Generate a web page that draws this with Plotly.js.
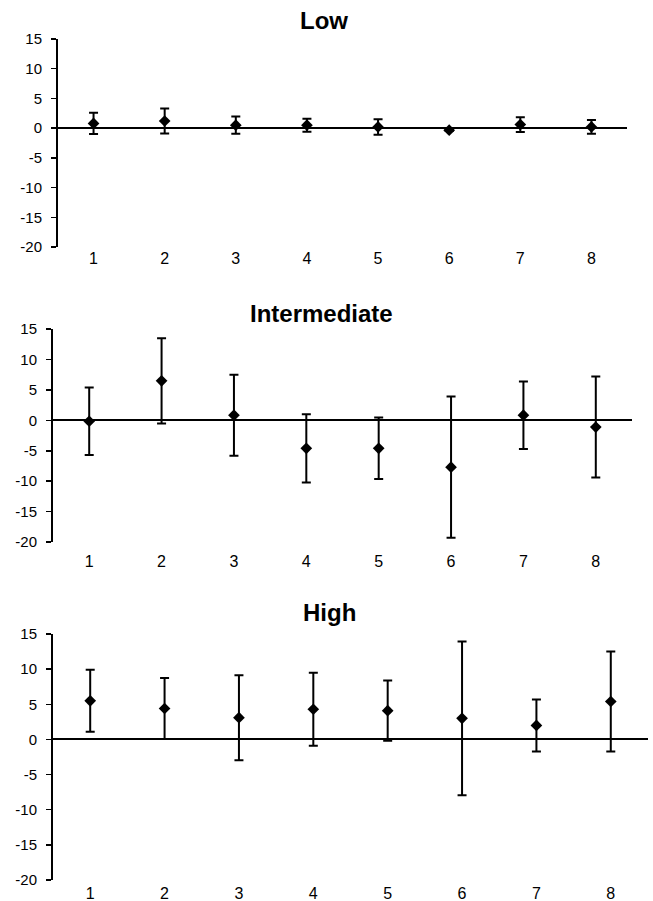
<!DOCTYPE html>
<html>
<head>
<meta charset="utf-8">
<script src="https://cdn.plot.ly/plotly-3.0.1.min.js"></script>
<style>html,body{margin:0;padding:0;background:#fff;}</style>
</head>
<body>
<div id="chart" style="width:653px;height:901px;"></div>
<script>
// Categories
const categories = [1, 2, 3, 4, 5, 6, 7, 8];
const categoryLabels = ["1", "2", "3", "4", "5", "6", "7", "8"];

// Panel titles
const panelTitles = ["Low", "Intermediate", "High"];

// Series values (mean) and error (+/-)
const lowMean  = [0.8, 1.2, 0.5, 0.5, 0.2, -0.35, 0.6, 0.2];
const lowErr   = [1.8, 2.1, 1.45, 1.1, 1.3, 0.15, 1.25, 1.15];

const intMean  = [-0.15, 6.5, 0.85, -4.6, -4.6, -7.7, 0.85, -1.1];
const intErr   = [5.55, 7.0, 6.65, 5.6, 5.05, 11.6, 5.55, 8.3];

const highMean = [5.5, 4.4, 3.1, 4.3, 4.1, 3.0, 2.0, 5.4];
const highErr  = [4.4, 4.35, 6.05, 5.2, 4.3, 10.95, 3.7, 7.1];

// Y tick labels
const yTickVals = [-20, -15, -10, -5, 0, 5, 10, 15];
const yTickText = ["-20", "-15", "-10", "-5", "0", "5", "10", "15"];

const FONT = "Liberation Sans, Arial, Helvetica, sans-serif";

function trace(mean, err, ax) {
  return {
    x: categories, y: mean, type: "scatter", mode: "markers",
    xaxis: "x" + ax, yaxis: "y" + ax,
    marker: {symbol: "diamond", size: 9, color: "#000"},
    error_y: {type: "data", array: err, visible: true, color: "#000", thickness: 2, width: 4.5},
    showlegend: false, hoverinfo: "skip"
  };
}

const data = [
  trace(lowMean, lowErr, ""),
  trace(intMean, intErr, "2"),
  trace(highMean, highErr, "3")
];

function xax(domain, anchor, standoff) {
  return {
    domain: domain, anchor: anchor, range: [0.5, 8.5],
    tickvals: categories, ticktext: categoryLabels,
    showline: false, showgrid: false, zeroline: false, ticks: "",
    ticklabelstandoff: standoff,
    tickfont: {family: FONT, size: 16, color: "#000"}, fixedrange: true
  };
}
function yax(domain, anchor) {
  return {
    domain: domain, anchor: anchor, range: [-20, 15],
    tickvals: yTickVals, ticktext: yTickText,
    showline: true, linecolor: "#000", linewidth: 2,
    ticks: "outside", ticklen: 5, tickwidth: 1.5, tickcolor: "#000",
    showgrid: false, zeroline: true, zerolinecolor: "#000", zerolinewidth: 2,
    ticklabelstandoff: 6,
    tickfont: {family: FONT, size: 15, color: "#000"}, fixedrange: true
  };
}

const titleFont = {family: FONT, size: 24, color: "#000"};
const layout = {
  width: 653, height: 901,
  margin: {l: 0, r: 0, t: 0, b: 0},
  paper_bgcolor: "#fff", plot_bgcolor: "#fff",
  xaxis:  xax([0.0888, 0.9602], "y", 0),
  yaxis:  yax([0.7259, 0.9567], "x"),
  xaxis2: xax([0.0812, 0.9678], "y2", 8),
  yaxis2: yax([0.3984, 0.6348], "x2"),
  xaxis3: xax([0.0812, 0.9923], "y3", 2),
  yaxis3: yax([0.0233, 0.2963], "x3"),
  annotations: [
    {text: "<b>" + panelTitles[0] + "</b>", x: 0.496, y: 0.977, xref: "paper", yref: "paper", xanchor: "center", yanchor: "middle", showarrow: false, font: titleFont},
    {text: "<b>" + panelTitles[1] + "</b>", x: 0.493, y: 0.652, xref: "paper", yref: "paper", xanchor: "center", yanchor: "middle", showarrow: false, font: titleFont},
    {text: "<b>" + panelTitles[2] + "</b>", x: 0.505, y: 0.320, xref: "paper", yref: "paper", xanchor: "center", yanchor: "middle", showarrow: false, font: titleFont}
  ]
};

Plotly.newPlot("chart", data, layout, {staticPlot: true, displayModeBar: false});
</script>
</body>
</html>
